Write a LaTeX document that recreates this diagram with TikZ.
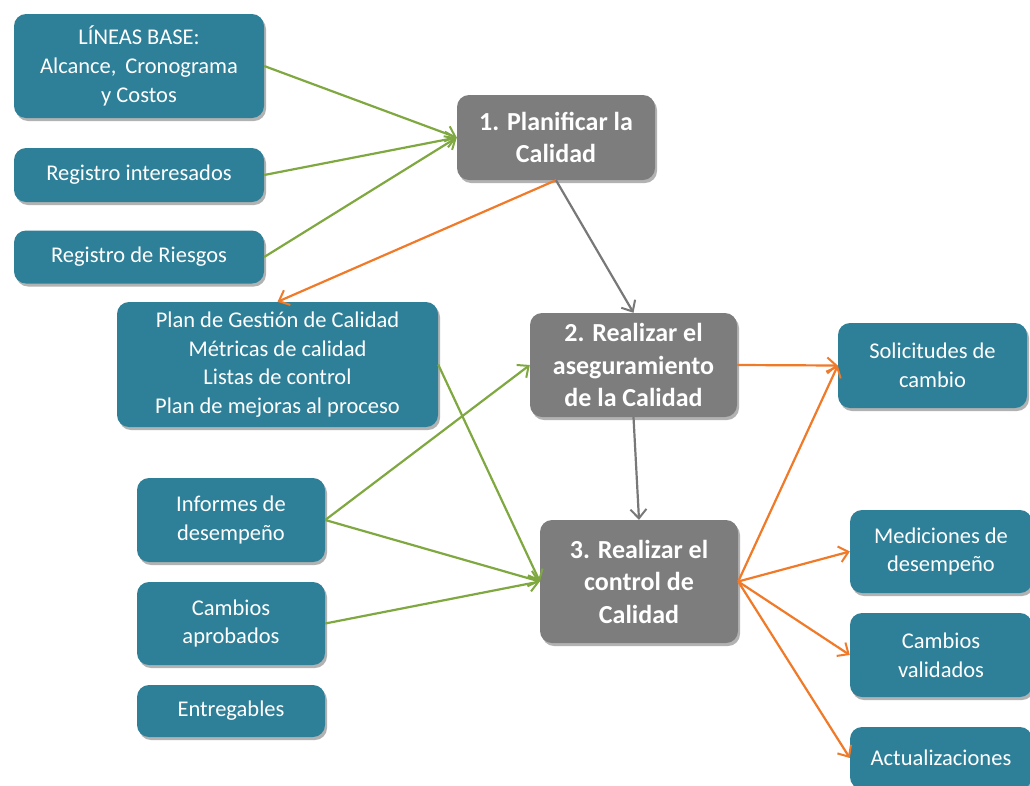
\documentclass[tikz,border=0pt]{standalone}
\usepackage{fontspec}
\setmainfont{Carlito}
\usetikzlibrary{arrows.meta,shadows}
\definecolor{tealbox}{RGB}{46,128,152}
\definecolor{greybox}{RGB}{125,125,125}
\definecolor{grn}{RGB}{128,168,64}
\definecolor{org}{RGB}{240,122,40}
\definecolor{gline}{RGB}{120,120,120}
\tikzset{
  base/.style={rounded corners=12pt, inner sep=0pt, align=center, text=white,
    drop shadow={shadow xshift=2pt, shadow yshift=-3pt, opacity=0.3, fill=black}},
  tbox/.style={base, fill=tealbox, font=\fontsize{22.5}{28.7}\selectfont},
  gbox/.style={base, fill=greybox, font=\bfseries\fontsize{26}{32.5}\selectfont},
  arr/.style={line width=2.2pt, -{Straight Barb[length=9pt,width=16pt,line width=2pt]}},
  garr/.style={arr, draw=grn},
  oarr/.style={arr, draw=org},
  carr/.style={arr, draw=gline},
}
\begin{document}
\begin{tikzpicture}[x=1pt,y=-1pt]
\useasboundingbox (0,0) rectangle (1030,785);
\node[tbox, minimum width=250pt, minimum height=104pt] (L) at (139,66) {LÍNEAS BASE:\\Alcance,\, Cronograma\\y Costos};
\node[tbox, minimum width=250pt, minimum height=54pt] (RI) at (139,175) {Registro interesados};
\node[tbox, minimum width=250pt, minimum height=53pt] (RR) at (139,257) {Registro de Riesgos};
\node[tbox, minimum width=321pt, minimum height=125pt] (P) at (277.5,364.5) {Plan de Gestión de Calidad\\Métricas de calidad\\Listas de control\\Plan de mejoras al proceso};
\node[tbox, minimum width=188pt, minimum height=84pt] (I) at (231,520) {Informes de\\desempeño};
\node[tbox, minimum width=188pt, minimum height=83pt] (CA) at (231,623.5) {Cambios\\aprobados};
\node[tbox, minimum width=188pt, minimum height=52pt] (E) at (231,711) {Entregables};
\node[gbox, minimum width=198pt, minimum height=85pt] (A) at (556,137.5) {1. Planificar la\\Calidad};
\node[gbox, minimum width=207pt, minimum height=104pt] (B) at (633.5,365) {2. Realizar el\\aseguramiento\\de la Calidad};
\node[gbox, minimum width=198pt, minimum height=123pt] (C) at (639,581.5) {3. Realizar el\\control de\\Calidad};
\node[tbox, minimum width=189pt, minimum height=85pt] (S) at (932.5,365.5) {Solicitudes de\\cambio};
\node[tbox, minimum width=182pt, minimum height=83pt] (M) at (941,551.5) {Mediciones de\\desempeño};
\node[tbox, minimum width=182pt, minimum height=84pt] (CV) at (941,655) {Cambios\\validados};
\node[tbox, minimum width=182pt, minimum height=62pt, text depth=0pt] (AC) at (941,758) {Actualizaciones};
% green inputs
\draw[garr] (L.east) -- (A.west);
\draw[garr] (RI.east) -- (A.west);
\draw[garr] (RR.east) -- (A.west);
\draw[garr] (P.east) -- (C.west);
\draw[garr] (I.east) -- (B.west);
\draw[garr] (I.east) -- (C.west);
\draw[garr] (CA.east) -- (C.west);
% orange outputs
\draw[oarr] (A.south) -- (P.north);
\draw[oarr] (B.east) -- (S.west);
\draw[oarr] (C.east) -- (S.west);
\draw[oarr] (C.east) -- (M.west);
\draw[oarr] (C.east) -- (CV.west);
\draw[oarr] (C.east) -- (AC.west);
% grey flow
\draw[carr] (A.south) -- (B.north);
\draw[carr] (B.south) -- (C.north);
\end{tikzpicture}
\end{document}
